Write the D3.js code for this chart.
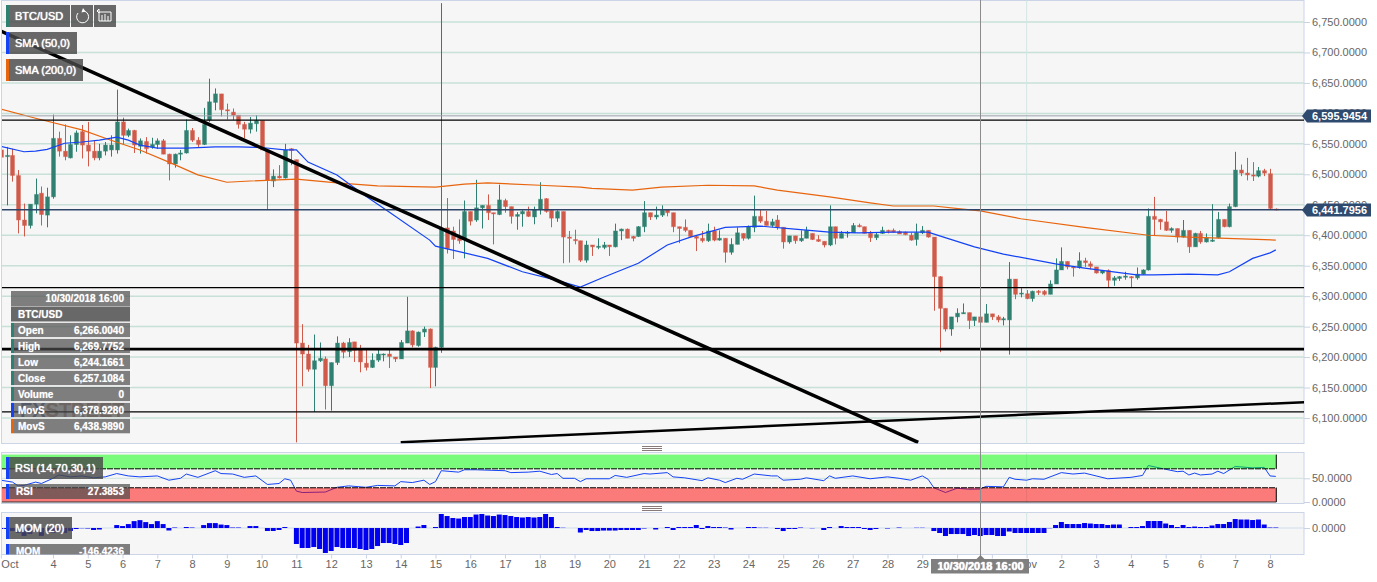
<!DOCTYPE html>
<html>
<head>
<meta charset="utf-8">
<script src="https://cdn.jsdelivr.net/npm/d3@7"></script>
<style>
	html, body { margin: 0; padding: 0; background: #fff; }
	svg { display: block; font-family: "Liberation Sans", Arial, sans-serif; }
	.axis text { fill: #666; font-size: 11px; }
	.axis line { stroke: #c9d2e6; }
	.axis .domain { display: none; }
	.box-text { fill: #fff; font-size: 11px; text-shadow: 0 0 1px #fff, 0 0 1px rgba(255,255,255,0.6); }
	.row-text { fill: #fff; font-size: 10px; font-weight: bold; text-shadow: 0 0 1px rgba(255,255,255,0.6); }
</style>
</head>
<body>
<div id="graphic"></div>
<script>
// 4h candles, first one is at the left edge, index 9 = Oct 4 00:00
var opens = [
	6540, 6529, 6531, 6498, 6425, 6416, 6451, 6469, 6433,
	6463, 6559, 6538, 6527, 6549, 6570, 6548, 6538, 6527, 6538,
	6540, 6540, 6586, 6564, 6572, 6546, 6554, 6545, 6549, 6555,
	6533, 6517, 6533, 6535, 6572, 6556, 6549, 6589, 6618, 6632,
	6606, 6602, 6597, 6582, 6574, 6583, 6588, 6540, 6489, 6497,
	6494, 6542, 6524, 6223, 6205, 6180, 6194, 6197, 6153, 6191,
	6223, 6209, 6225, 6212, 6190, 6183, 6195, 6204, 6205, 6200,
	6197, 6223, 6243, 6219, 6241, 6246, 6183, 6216, 6412, 6407,
	6395, 6393, 6439, 6425, 6445, 6449, 6437, 6434, 6457, 6447,
	6431, 6435, 6439, 6430, 6442, 6460, 6441, 6428, 6439, 6397,
	6393, 6391, 6359, 6384, 6380, 6380, 6384, 6381, 6407, 6410,
	6398, 6398, 6414, 6437, 6430, 6433, 6442, 6437, 6414, 6413,
	6408, 6398, 6395, 6391, 6407, 6392, 6395, 6372, 6385, 6403,
	6395, 6413, 6431, 6423, 6416, 6425, 6413, 6389, 6399, 6391,
	6395, 6403, 6393, 6390, 6384, 6414, 6395, 6403, 6404, 6416,
	6414, 6403, 6396, 6403, 6408, 6408, 6406, 6405, 6400, 6393,
	6404, 6408, 6397, 6332, 6280, 6246, 6266, 6271, 6273, 6260,
	6266, 6257, 6271, 6266, 6261, 6261, 6328, 6304, 6304, 6296,
	6308, 6308, 6303, 6320, 6343, 6357, 6348, 6347, 6358, 6353,
	6348, 6338, 6342, 6326, 6329, 6331, 6332, 6330, 6336, 6343,
	6431, 6426, 6422, 6408, 6411, 6397, 6408, 6381, 6403, 6389,
	6390, 6396, 6426, 6414, 6447, 6507, 6502, 6499, 6497, 6506,
	6501, 6443
];
var highs = [
	6570, 6545, 6542, 6507, 6452, 6451, 6493, 6480, 6478,
	6598, 6570, 6582, 6564, 6572, 6581, 6586, 6556, 6550, 6553,
	6564, 6639, 6593, 6575, 6573, 6559, 6561, 6560, 6559, 6558,
	6534, 6534, 6540, 6590, 6576, 6561, 6609, 6657, 6641, 6632,
	6616, 6608, 6597, 6586, 6594, 6597, 6588, 6540, 6508, 6515,
	6550, 6543, 6524, 6254, 6220, 6237, 6224, 6201, 6191, 6234,
	6225, 6231, 6225, 6220, 6212, 6206, 6213, 6206, 6212, 6200,
	6228, 6299, 6244, 6242, 6250, 6247, 6217, 6781, 6461, 6414,
	6426, 6457, 6439, 6491, 6449, 6467, 6437, 6483, 6460, 6447,
	6438, 6441, 6447, 6447, 6487, 6461, 6441, 6441, 6439, 6407,
	6409, 6391, 6391, 6384, 6395, 6389, 6384, 6419, 6411, 6411,
	6399, 6415, 6456, 6437, 6447, 6449, 6442, 6437, 6414, 6426,
	6408, 6400, 6407, 6419, 6414, 6408, 6395, 6395, 6413, 6403,
	6416, 6465, 6442, 6440, 6427, 6433, 6413, 6399, 6399, 6408,
	6414, 6403, 6400, 6390, 6449, 6414, 6407, 6407, 6420, 6419,
	6414, 6407, 6404, 6414, 6409, 6411, 6408, 6406, 6404, 6419,
	6415, 6408, 6397, 6333, 6280, 6266, 6280, 6288, 6273, 6266,
	6270, 6287, 6271, 6269, 6266, 6356, 6328, 6313, 6310, 6309,
	6310, 6310, 6326, 6362, 6380, 6357, 6349, 6372, 6363, 6357,
	6348, 6343, 6344, 6333, 6333, 6340, 6333, 6347, 6344, 6444,
	6463, 6427, 6440, 6413, 6411, 6425, 6408, 6404, 6407, 6403,
	6451, 6438, 6426, 6452, 6537, 6516, 6527, 6520, 6512, 6509,
	6509, 6444
];
var lows = [
	6512, 6449, 6488, 6403, 6398, 6411, 6436, 6416, 6413,
	6460, 6529, 6523, 6526, 6537, 6526, 6513, 6523, 6523, 6531,
	6529, 6534, 6549, 6561, 6535, 6534, 6534, 6542, 6542, 6533,
	6490, 6511, 6523, 6534, 6553, 6545, 6548, 6586, 6605, 6595,
	6590, 6589, 6575, 6559, 6567, 6570, 6540, 6442, 6479, 6493,
	6493, 6515, 6060, 6152, 6176, 6110, 6192, 6114, 6112, 6187,
	6198, 6200, 6192, 6175, 6178, 6182, 6192, 6193, 6182, 6192,
	6197, 6223, 6216, 6217, 6233, 6149, 6152, 6207, 6370, 6361,
	6386, 6362, 6416, 6422, 6411, 6425, 6385, 6433, 6437, 6419,
	6409, 6414, 6430, 6418, 6434, 6437, 6413, 6422, 6354, 6355,
	6385, 6356, 6355, 6366, 6377, 6377, 6366, 6380, 6392, 6395,
	6390, 6397, 6405, 6425, 6426, 6430, 6431, 6405, 6387, 6405,
	6397, 6374, 6388, 6389, 6390, 6391, 6355, 6368, 6385, 6391,
	6393, 6405, 6420, 6416, 6413, 6409, 6378, 6386, 6386, 6389,
	6395, 6392, 6389, 6380, 6382, 6385, 6395, 6396, 6404, 6413,
	6403, 6389, 6392, 6402, 6403, 6404, 6402, 6400, 6391, 6383,
	6402, 6396, 6276, 6208, 6242, 6235, 6257, 6271, 6246, 6251,
	6244, 6257, 6261, 6257, 6252, 6204, 6295, 6298, 6295, 6291,
	6302, 6301, 6303, 6320, 6343, 6344, 6332, 6345, 6348, 6344,
	6337, 6336, 6314, 6317, 6325, 6327, 6315, 6327, 6335, 6342,
	6400, 6409, 6407, 6404, 6388, 6396, 6371, 6381, 6386, 6388,
	6389, 6395, 6413, 6413, 6446, 6497, 6490, 6489, 6495, 6497,
	6443, 6441
];
var closes = [
	6528, 6531, 6498, 6425, 6416, 6451, 6467, 6434, 6463,
	6559, 6538, 6529, 6549, 6568, 6548, 6538, 6527, 6538, 6548,
	6548, 6586, 6564, 6572, 6548, 6555, 6542, 6549, 6555, 6533,
	6517, 6533, 6535, 6572, 6556, 6549, 6582, 6619, 6632, 6606,
	6604, 6597, 6582, 6574, 6584, 6588, 6540, 6490, 6497, 6494,
	6540, 6539, 6223, 6205, 6180, 6194, 6198, 6153, 6191, 6223,
	6208, 6224, 6211, 6192, 6183, 6195, 6205, 6205, 6201, 6197,
	6224, 6243, 6220, 6241, 6246, 6183, 6216, 6411, 6378, 6393,
	6391, 6439, 6423, 6445, 6449, 6437, 6435, 6458, 6447, 6431,
	6434, 6439, 6431, 6442, 6459, 6439, 6428, 6439, 6397, 6395,
	6391, 6359, 6384, 6381, 6382, 6384, 6381, 6407, 6410, 6395,
	6395, 6414, 6437, 6430, 6433, 6441, 6437, 6414, 6411, 6408,
	6398, 6395, 6391, 6407, 6392, 6395, 6372, 6385, 6404, 6395,
	6414, 6431, 6423, 6416, 6422, 6413, 6389, 6399, 6391, 6395,
	6408, 6393, 6390, 6384, 6414, 6395, 6403, 6405, 6416, 6414,
	6403, 6396, 6401, 6408, 6406, 6405, 6402, 6401, 6392, 6404,
	6408, 6397, 6332, 6280, 6246, 6266, 6272, 6273, 6260, 6266,
	6257, 6271, 6266, 6261, 6263, 6328, 6303, 6305, 6296, 6308,
	6306, 6303, 6320, 6343, 6357, 6348, 6347, 6358, 6355, 6349,
	6338, 6342, 6326, 6330, 6332, 6333, 6330, 6336, 6343, 6431,
	6426, 6422, 6408, 6411, 6397, 6408, 6381, 6403, 6389, 6396,
	6392, 6426, 6414, 6447, 6507, 6502, 6499, 6497, 6506, 6502,
	6444, 6441.8
];

// moving averages, read at the candle indexes where they bend
var sma50Index = [0, 4, 6, 8, 11, 14, 17, 20, 22, 24, 27, 32, 37, 41, 45, 49, 51, 53, 58, 63, 67, 74, 75, 80, 84, 90, 96, 100, 104, 110, 115, 119, 125, 131, 137, 143, 148, 154, 160, 162, 168, 173, 182, 187, 196, 199, 205, 210, 212, 216, 219, 220];
var sma50Values = [6546, 6537, 6538, 6541, 6551, 6553, 6556, 6561, 6556, 6548, 6543, 6543, 6545, 6545, 6544, 6540, 6540, 6520, 6499, 6464, 6438, 6392, 6382, 6371, 6362, 6340, 6326, 6315, 6331, 6354, 6384, 6397, 6413, 6415, 6410, 6405, 6404, 6405, 6405, 6399, 6381, 6369, 6353, 6346, 6335, 6335, 6336, 6335, 6340, 6362, 6371, 6376];
var sma200Index = [0, 6, 14, 19, 24, 29, 34, 39, 43, 51, 58, 65, 75, 80, 84, 93, 100, 102, 109, 114, 122, 130, 134, 143, 150, 154, 161, 166, 169, 176, 187, 198, 205, 220];
var sma200Values = [6607, 6592, 6573, 6556, 6540, 6520, 6499, 6487, 6489, 6492, 6486, 6481, 6479, 6484, 6486, 6482, 6479, 6477, 6474, 6479, 6482, 6481, 6474, 6463, 6453, 6448, 6448, 6443, 6440, 6427, 6413, 6400, 6397, 6392];

var rsiIndex = [0, 2, 3, 4, 6, 7, 9, 10, 12, 14, 16, 18, 20, 22, 24, 27, 29, 31, 32, 34, 37, 38, 40, 42, 44, 46, 48, 49, 50, 51, 52, 56, 58, 60, 63, 65, 68, 69, 71, 73, 74, 75, 76, 79, 80, 82, 87, 88, 91, 93, 95, 96, 97, 99, 100, 101, 105, 106, 108, 111, 112, 115, 116, 118, 121, 122, 124, 125, 127, 128, 130, 133, 134, 135, 138, 139, 142, 143, 144, 147, 150, 153, 155, 157, 159, 160, 161, 163, 165, 167, 169, 170, 173, 174, 175, 177, 178, 180, 183, 185, 187, 189, 191, 195, 197, 198, 201, 203, 204, 205, 206, 207, 209, 210, 211, 213, 216, 218, 219, 220];
var rsiValues = [46, 42, 34, 35, 42, 39, 50, 57, 53, 55, 51, 53, 60, 55, 53, 55, 46, 50, 59, 52, 66, 60, 59, 52, 55, 37, 39, 49, 46, 23, 20, 21, 31, 34, 31, 35, 34, 43, 41, 46, 37, 43, 66, 63, 68, 68, 66, 62, 63, 65, 58, 60, 50, 50, 43, 49, 49, 56, 52, 60, 59, 62, 53, 51, 45, 51, 46, 41, 50, 48, 59, 55, 55, 46, 48, 51, 45, 55, 50, 55, 49, 53, 50, 46, 55, 48, 30, 20, 29, 27, 27.4, 33, 32, 52, 48, 46, 49, 48, 62, 59, 61, 55, 49, 52, 56, 77, 69, 64, 65, 57, 61, 57, 59, 65, 60, 75, 72, 73, 55, 54];

var momValues = [
	-18, -18, -54, -90, -144, -108, -72, -144, -54, -90,
	-54, -90, -54, -18, -5, -9, -36, -27, 0, 0,
	54, 36, 72, 126, 144, 108, 72, 126, 72, -45,
	9, 0, 18, 9, 0, 54, 90, 90, 63, 54,
	9, 9, 0, 36, 36, 0, -54, -54, -36, 18,
	0, -292, -365, -365, -347, -383, -456, -420, -347, -365,
	-365, -365, -383, -401, -383, -329, -274, -274, -292, -310,
	-274, 0, 27, 55, 0, 18, 256, 219, 183, 173,
	201, 201, 246, 256, 228, 219, 246, 237, 219, 201,
	192, 201, 192, 201, 256, 201, 18, 5, 0, 0,
	-82, -36, -55, -55, -46, -46, -46, -36, -36, -36,
	-36, -9, 0, -27, 0, 18, -36, 18, 18, 18,
	55, -18, 36, 18, 18, 9, -27, 0, 0, 18,
	18, 5, 5, 0, -18, -55, -18, -18, 9, 0,
	-5, 0, -36, 18, 0, 36, 18, 18, 18, -18,
	-36, -18, 0, -9, 0, 9, 0, 0, 5, 5,
	0, -55, -91, -146, -110, -110, -110, -146, -128, -146,
	-128, -128, -146, -146, -64, -91, -91, -91, -91, -91,
	-91, -5, 55, 110, 73, 73, 73, 91, 82, 73,
	73, 55, 64, 64, 0, 18, 18, 36, 128, 128,
	128, 82, 55, 18, 55, 18, 27, 18, 18, 46,
	73, 73, 110, 164, 155, 155, 146, 155, 64, 9,
	9
];

var priceTicks = [6100, 6150, 6200, 6250, 6300, 6350, 6400, 6450, 6500, 6550, 6600, 6650, 6700, 6750];
var rsiTicks = [0, 50];
var momTicks = [0];

var dayTickIndex = [0, 9, 15, 21, 27, 33, 39, 45, 51, 57, 63, 69, 75, 81, 87, 93, 99, 105, 111, 117, 123, 129, 135, 141, 147, 153, 159, 165, 171, 177, 183, 189, 195, 201, 207, 213, 219];
var dayTickLabels = ['Oct', '4', '5', '6', '7', '8', '9', '10', '11', '12', '13', '14', '15', '16', '17', '18', '19', '20', '21', '22', '23', '24', '25', '26', '27', '28', '29', '30', '31', 'Nov', '2', '3', '4', '5', '6', '7', '8'];

// horizontal levels drawn on the chart
var levelPrices = [6595.9454, 6589, 6441.7956, 6314, 6213, 6110];
var levelColors = ['#9aa3ad', '#000', '#2c4468', '#000', '#000', '#000'];
var levelWidths = [1, 1.3, 1.3, 1.3, 2.6, 1.3];

// two drawn trendlines, as [index, price] ends
var fallingTrend = [[0, 6735], [158.3, 6060]];
var risingTrend = [[69, 6060], [225, 6126]];

var tagPrices = [6595.9454, 6441.7956];

var crosshairIndex = 169;
var crosshairLabel = '10/30/2018 16:00';
var monthLineIndex = 177;

var tableLabels = ['Open', 'High', 'Low', 'Close', 'Volume', 'MovS', 'MovS'];
var tableValues = ['6,266.0040', '6,269.7752', '6,244.1661', '6,257.1084', '0', '6,378.9280', '6,438.9890'];

var GREEN = '#2f8070';
var RED = '#d05a4a';
var BLUE = '#1443f5';
var ORANGE = '#e8650f';
var BOX_FILL = 'rgba(72,72,72,0.82)';
var ROW_FILL = 'rgba(76,76,76,0.7)';

var WIDTH = 1377;
var HEIGHT = 582;
var PANE_LEFT = 2;
var PANE_RIGHT = 1304;

function render() {
	var svg = d3.select('#graphic').append('svg')
		.attr('width', WIDTH)
		.attr('height', HEIGHT);

	var indexes = d3.range(opens.length);

	var xScale = d3.scaleLinear()
		.domain([9, 219])
		.range([53, 1270]);

	var yScale = d3.scaleLinear()
		.domain([6100, 6750])
		.range([418, 22]);

	var rsiScale = d3.scaleLinear()
		.domain([0, 100])
		.range([502, 454.6]);

	var momScale = d3.scaleLinear()
		.domain([-480, 287])
		.range([554.3, 512.3]);

	var lineFor = function(scale) {
		return d3.line()
			.x(function(d) { return xScale(d[0]); })
			.y(function(d) { return scale(d[1]); });
	};

	// Panes
	var panes = [
		{ id: 'main', top: 0.5, bottom: 443.5 },
		{ id: 'rsi', top: 452.5, bottom: 503.5 },
		{ id: 'mom', top: 512.5, bottom: 554.5 }
	];

	svg.append('defs').selectAll('clipPath')
		.data(panes)
		.enter().append('clipPath')
		.attr('id', function(d) { return 'clip-' + d.id; })
		.append('rect')
		.attr('x', PANE_LEFT)
		.attr('y', function(d) { return d.top; })
		.attr('width', PANE_RIGHT - PANE_LEFT)
		.attr('height', function(d) { return d.bottom - d.top; });

	svg.append('g').selectAll('rect')
		.data(panes)
		.enter().append('rect')
		.attr('x', PANE_LEFT - 0.5)
		.attr('y', function(d) { return d.top; })
		.attr('width', PANE_RIGHT - PANE_LEFT + 0.5)
		.attr('height', function(d) { return d.bottom - d.top; })
		.attr('fill', '#f6f6f6')
		.attr('stroke', '#ccd4e8');

	// Main pane
	var main = svg.append('g').attr('clip-path', 'url(#clip-main)');

	main.append('g').selectAll('line')
		.data(priceTicks)
		.enter().append('line')
		.attr('x1', PANE_LEFT)
		.attr('x2', PANE_RIGHT)
		.attr('y1', function(d) { return yScale(d); })
		.attr('y2', function(d) { return yScale(d); })
		.attr('stroke', '#c8e0d8')
		.attr('stroke-width', 1.5);

	main.append('line')
		.attr('x1', xScale(monthLineIndex))
		.attr('x2', xScale(monthLineIndex))
		.attr('y1', 0)
		.attr('y2', 444)
		.attr('stroke', '#d3e6e4');

	var watermark = main.append('text')
		.attr('x', 20)
		.attr('y', 417)
		.attr('font-size', 20)
		.attr('font-weight', 'bold');
	watermark.append('tspan').attr('fill', 'rgba(30,50,120,0.65)').text('FX');
	watermark.append('tspan').attr('fill', 'rgba(130,85,70,0.55)').text('STREET');

	var candles = main.append('g').selectAll('g')
		.data(indexes)
		.enter().append('g')
		.attr('fill', function(i) { return closes[i] < opens[i] ? RED : GREEN; })
		.attr('stroke', function(i) { return closes[i] < opens[i] ? RED : GREEN; });

	candles.append('line')
		.attr('x1', function(i) { return Math.round(xScale(i)) + 0.5; })
		.attr('x2', function(i) { return Math.round(xScale(i)) + 0.5; })
		.attr('y1', function(i) { return yScale(highs[i]); })
		.attr('y2', function(i) { return yScale(lows[i]); });

	candles.append('rect')
		.attr('x', function(i) { return Math.round(xScale(i)) - 1.5; })
		.attr('width', 4)
		.attr('y', function(i) { return Math.min(yScale(opens[i]), yScale(closes[i])); })
		.attr('height', function(i) { return Math.max(1, Math.abs(yScale(opens[i]) - yScale(closes[i]))); })
		.attr('stroke-opacity', 0.35);

	var smaPairs = function(index, values) {
		return index.map(function(d, k) { return [d, values[k]]; });
	};

	main.append('path')
		.attr('d', lineFor(yScale)(smaPairs(sma200Index, sma200Values)))
		.attr('fill', 'none')
		.attr('stroke', ORANGE)
		.attr('stroke-width', 1.2);

	main.append('path')
		.attr('d', lineFor(yScale)(smaPairs(sma50Index, sma50Values)))
		.attr('fill', 'none')
		.attr('stroke', BLUE)
		.attr('stroke-width', 1.2);

	main.append('g').selectAll('line')
		.data(levelPrices)
		.enter().append('line')
		.attr('x1', PANE_LEFT)
		.attr('x2', PANE_RIGHT)
		.attr('y1', function(d) { return yScale(d); })
		.attr('y2', function(d) { return yScale(d); })
		.attr('stroke', function(d, k) { return levelColors[k]; })
		.attr('stroke-width', function(d, k) { return levelWidths[k]; });

	main.append('path')
		.attr('d', lineFor(yScale)(fallingTrend))
		.attr('fill', 'none')
		.attr('stroke', '#000')
		.attr('stroke-width', 3.5);

	main.append('path')
		.attr('d', lineFor(yScale)(risingTrend))
		.attr('fill', 'none')
		.attr('stroke', '#000')
		.attr('stroke-width', 2.5);

	// RSI pane
	var rsi = svg.append('g').attr('clip-path', 'url(#clip-rsi)');

	rsi.append('line')
		.attr('x1', PANE_LEFT)
		.attr('x2', PANE_RIGHT)
		.attr('y1', rsiScale(50))
		.attr('y2', rsiScale(50))
		.attr('stroke', '#cfe3dc');

	rsi.append('line')
		.attr('x1', xScale(monthLineIndex))
		.attr('x2', xScale(monthLineIndex))
		.attr('y1', 452)
		.attr('y2', 504)
		.attr('stroke', '#d3e6e4');

	rsi.append('path')
		.attr('d', lineFor(rsiScale)(smaPairs(rsiIndex, rsiValues)))
		.attr('fill', 'none')
		.attr('stroke', BLUE);

	var bandEnd = xScale(220) + 0.5;
	var bands = [[70, 100, 'rgba(0,255,0,0.5)', 70], [0, 30, 'rgba(255,0,0,0.5)', 30]];

	bands.forEach(function(b) {
		rsi.append('rect')
			.attr('x', PANE_LEFT)
			.attr('width', bandEnd - PANE_LEFT)
			.attr('y', rsiScale(b[1]))
			.attr('height', rsiScale(b[0]) - rsiScale(b[1]))
			.attr('fill', b[2]);
		rsi.append('line')
			.attr('x1', PANE_LEFT)
			.attr('x2', bandEnd)
			.attr('y1', rsiScale(b[3]))
			.attr('y2', rsiScale(b[3]))
			.attr('stroke', '#000')
			.attr('stroke-dasharray', '6,1');
		rsi.append('line')
			.attr('x1', bandEnd)
			.attr('x2', bandEnd)
			.attr('y1', rsiScale(b[1]))
			.attr('y2', rsiScale(b[0]))
			.attr('stroke', '#000');
	});

	rsi.append('line')
		.attr('x1', PANE_LEFT)
		.attr('x2', bandEnd)
		.attr('y1', rsiScale(0))
		.attr('y2', rsiScale(0))
		.attr('stroke', '#333');

	// Momentum pane
	var mom = svg.append('g').attr('clip-path', 'url(#clip-mom)');

	mom.append('line')
		.attr('x1', PANE_LEFT)
		.attr('x2', PANE_RIGHT)
		.attr('y1', momScale(0))
		.attr('y2', momScale(0))
		.attr('stroke', '#cfdcec');

	mom.append('line')
		.attr('x1', xScale(monthLineIndex))
		.attr('x2', xScale(monthLineIndex))
		.attr('y1', 512)
		.attr('y2', 555)
		.attr('stroke', '#d3e6e4');

	mom.append('g').selectAll('rect')
		.data(momValues)
		.enter().append('rect')
		.attr('x', function(d, i) { return xScale(i) - 2.5; })
		.attr('width', 5)
		.attr('y', function(d) { return Math.min(momScale(d), momScale(0)); })
		.attr('height', function(d) { return Math.abs(momScale(d) - momScale(0)); })
		.attr('fill', '#0000ee');

	// Axes
	var fixed4 = d3.format(',.4f');

	svg.append('g')
		.attr('class', 'axis')
		.attr('transform', 'translate(' + PANE_RIGHT + ',0)')
		.call(d3.axisRight(yScale).tickValues(priceTicks).tickFormat(fixed4).tickSize(6).tickPadding(2));

	svg.append('g')
		.attr('class', 'axis')
		.attr('transform', 'translate(' + PANE_RIGHT + ',0)')
		.call(d3.axisRight(rsiScale).tickValues(rsiTicks).tickFormat(fixed4).tickSize(6).tickPadding(2));

	svg.append('g')
		.attr('class', 'axis')
		.attr('transform', 'translate(' + PANE_RIGHT + ',0)')
		.call(d3.axisRight(momScale).tickValues(momTicks).tickFormat(fixed4).tickSize(6).tickPadding(2));

	var xAxis = svg.append('g')
		.attr('class', 'axis')
		.attr('transform', 'translate(0,554.5)')
		.call(d3.axisBottom(xScale)
			.tickValues(dayTickIndex)
			.tickFormat(function(d, k) { return dayTickLabels[k]; })
			.tickSize(4)
			.tickPadding(2));

	xAxis.selectAll('.tick text')
		.attr('text-anchor', function(d, k) { return k === 0 ? 'start' : 'middle'; });

	// Price tags on the right
	var tags = svg.append('g').selectAll('g')
		.data(tagPrices)
		.enter().append('g')
		.attr('transform', function(d) { return 'translate(0,' + Math.round(yScale(d)) + ')'; });

	tags.append('path')
		.attr('d', 'M1302,0L1307,-6.5H1371V6.5H1307Z')
		.attr('fill', '#2e4a6e');

	tags.append('text')
		.attr('x', 1312)
		.attr('y', 4)
		.attr('font-size', 11)
		.attr('font-weight', 'bold')
		.attr('fill', '#fff')
		.text(fixed4);

	// Crosshair
	var crossX = Math.round(xScale(crosshairIndex)) + 0.5;
	svg.append('line')
		.attr('x1', crossX)
		.attr('x2', crossX)
		.attr('y1', 0)
		.attr('y2', 556)
		.attr('stroke', '#8c8c8c');

	svg.append('path')
		.attr('d', 'M' + (crossX - 4) + ',559L' + crossX + ',555L' + (crossX + 4) + ',559Z')
		.attr('fill', '#7f7f7f');

	svg.append('rect')
		.attr('x', 931)
		.attr('y', 559)
		.attr('width', 98)
		.attr('height', 14.5)
		.attr('fill', '#7f7f7f');

	svg.append('text')
		.attr('class', 'box-text')
		.attr('x', 980.5)
		.attr('y', 570)
		.attr('text-anchor', 'middle')
		.attr('font-weight', 'bold')
		.text(crosshairLabel);

	// Legend boxes
	var legendBox = function(parent, x, y, width, height, swatch, label) {
		parent.append('rect')
			.attr('x', x + 3)
			.attr('y', y)
			.attr('width', width - 3)
			.attr('height', height)
			.attr('fill', BOX_FILL);
		parent.append('rect')
			.attr('x', x)
			.attr('y', y)
			.attr('width', 3)
			.attr('height', height)
			.attr('fill', swatch);
		parent.append('text')
			.attr('class', 'box-text')
			.attr('x', x + 9)
			.attr('y', y + height / 2 + 4)
			.text(label);
	};

	var legends = svg.append('g');
	legendBox(legends, 6, 5, 64, 22, GREEN, 'BTC/USD');
	legendBox(legends, 6, 32, 71, 22, BLUE, 'SMA (50,0)');
	legendBox(legends, 6, 59, 77, 22, ORANGE, 'SMA (200,0)');

	legends.append('rect').attr('x', 71).attr('y', 5).attr('width', 22).attr('height', 22).attr('fill', BOX_FILL);
	legends.append('rect').attr('x', 94).attr('y', 5).attr('width', 22).attr('height', 22).attr('fill', BOX_FILL);

	// refresh icon
	legends.append('path')
		.attr('d', 'M84,11A6,6 0 1 1 78,13')
		.attr('fill', 'none')
		.attr('stroke', '#fff');
	legends.append('path')
		.attr('d', 'M83,8L85.5,11.5L81.5,12.5Z')
		.attr('fill', '#fff');

	// candle icon
	legends.append('path')
		.attr('d', 'M99,12H111V21H99V12M102,15V21M105,14V21M108,16V21M97,11L99,9V13Z')
		.attr('fill', 'none')
		.attr('stroke', '#fff');

	legendBox(legends, 6, 457, 97, 22, BLUE, 'RSI (14,70,30,1)');
	legendBox(legends, 6, 517, 66, 22, BLUE, 'MOM (20)');

	// Value rows in the indicator panes
	var valueRow = function(parent, x, y, width, height, swatch, label, value, labelGap) {
		parent.append('rect')
			.attr('x', x + 3)
			.attr('y', y)
			.attr('width', width - 3)
			.attr('height', height)
			.attr('fill', ROW_FILL);
		parent.append('rect')
			.attr('x', x)
			.attr('y', y)
			.attr('width', 3)
			.attr('height', height)
			.attr('fill', swatch);
		parent.append('text')
			.attr('class', 'row-text')
			.attr('x', x + labelGap)
			.attr('y', y + height / 2 + 3.5)
			.text(label);
		parent.append('text')
			.attr('class', 'row-text')
			.attr('x', x + width - 6)
			.attr('y', y + height / 2 + 3.5)
			.attr('text-anchor', 'end')
			.text(value);
	};

	valueRow(legends, 6, 484, 124, 15, BLUE, 'RSI', '27.3853', 10);

	var momRow = svg.append('g').attr('clip-path', 'url(#clip-mom)');
	valueRow(momRow, 6, 544, 124, 15, BLUE, 'MOM', '-146.4236', 10);

	// Hover table
	var table = svg.append('g');

	table.append('rect').attr('x', 11).attr('y', 291).attr('width', 119).attr('height', 15).attr('fill', ROW_FILL);
	table.append('text')
		.attr('class', 'row-text')
		.attr('x', 124)
		.attr('y', 302)
		.attr('text-anchor', 'end')
		.text(crosshairLabel);

	table.append('rect').attr('x', 11).attr('y', 306.5).attr('width', 119).attr('height', 15.5).attr('fill', BOX_FILL);
	table.append('text')
		.attr('class', 'row-text')
		.attr('x', 18)
		.attr('y', 318)
		.text('BTC/USD');

	tableLabels.forEach(function(label, k) {
		var swatch = k < 5 ? GREEN : (k === 5 ? BLUE : ORANGE);
		valueRow(table, 11, 322.7 + k * 16, 119, 14.6, swatch, label, tableValues[k], 7);
		table.append('line')
			.attr('x1', 11)
			.attr('x2', 132)
			.attr('y1', 322 + k * 16)
			.attr('y2', 322 + k * 16)
			.attr('stroke', '#fbfbfb')
			.attr('stroke-width', 1.2);
	});

	// Pane resize handles
	[446.5, 506.5].forEach(function(y) {
		[0, 2, 4].forEach(function(dy) {
			svg.append('line')
				.attr('x1', 642)
				.attr('x2', 662)
				.attr('y1', y + dy)
				.attr('y2', y + dy)
				.attr('stroke', '#8a7a7a');
		});
	});
}

document.addEventListener('DOMContentLoaded', render);
</script>
</body>
</html>
